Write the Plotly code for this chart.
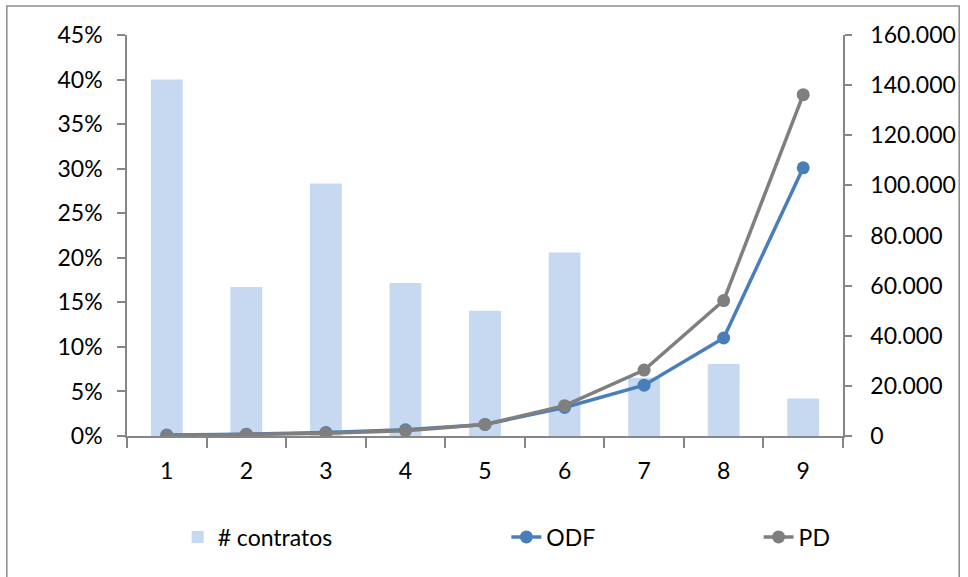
import plotly.graph_objects as go

categories = ["1", "2", "3", "4", "5", "6", "7", "8", "9"]
contratos = [142200, 59500, 100700, 61000, 50000, 73200, 23200, 28700, 15000]
odf = [0.001, 0.002, 0.004, 0.007, 0.013, 0.032, 0.057, 0.110, 0.301]
pd_vals = [0.0005, 0.0015, 0.003, 0.006, 0.013, 0.034, 0.074, 0.152, 0.383]
right_ticks = [0, 20000, 40000, 60000, 80000, 100000, 120000, 140000, 160000]
right_labels = ["0", "20.000", "40.000", "60.000", "80.000", "100.000", "120.000", "140.000", "160.000"]

FONT = "Lato"
FS = 23
AXC = "#868686"

# plot area in pixels
L, R, T, B = 127, 848, 35, 436
W, H = R - L, B - T
def px(x):
    return (x - L) / W
def py(y):
    return (B - y) / H

fig = go.Figure()
fig.add_trace(go.Bar(x=categories, y=contratos, name="# contratos",
                     marker=dict(color="#C6D9F1", line=dict(width=0)),
                     yaxis="y", legend="legend", showlegend=True, width=0.4))
fig.add_trace(go.Scatter(x=categories, y=odf, name="ODF", mode="lines+markers",
                         line=dict(color="#4A7EBB", width=3.5),
                         marker=dict(size=13, color="#4A7EBB"),
                         yaxis="y2", legend="legend2", showlegend=True))
fig.add_trace(go.Scatter(x=categories, y=pd_vals, name="PD", mode="lines+markers",
                         line=dict(color="#7F7F7F", width=3.5),
                         marker=dict(size=13, color="#7F7F7F"),
                         yaxis="y2", legend="legend3", showlegend=True))

legend_common = dict(orientation="h", yanchor="middle", xanchor="left",
                     font=dict(family=FONT, size=FS, color="black"),
                     bgcolor="rgba(0,0,0,0)", y=py(537), visible=True)
fig.update_layout(
    width=968, height=577,
    margin=dict(l=L, r=968 - R, t=T, b=577 - B),
    paper_bgcolor="white", plot_bgcolor="white",
    font=dict(family=FONT, size=FS, color="black"),
    showlegend=True,
    xaxis=dict(type="category", range=[-0.5, 8.5], showline=True, linecolor=AXC,
               linewidth=1.5, ticks="outside", tickson="boundaries", ticklen=10,
               tickcolor=AXC, tickwidth=1.5, showgrid=False, zeroline=False,
               ticklabelstandoff=14,
               tickfont=dict(family=FONT, size=FS, color="black")),
    yaxis=dict(side="right", range=[0, 160000], tickvals=right_ticks, ticktext=right_labels,
               showline=True, linecolor=AXC, linewidth=1.5, ticks="outside", ticklen=7,
               tickcolor=AXC, tickwidth=1.5, showgrid=False, zeroline=False,
               ticklabelstandoff=14,
               tickfont=dict(family=FONT, size=FS, color="black")),
    yaxis2=dict(overlaying="y", side="left", range=[0, 0.45], dtick=0.05, tickformat=".0%",
                showline=True, linecolor=AXC, linewidth=1.5, ticks="outside", ticklen=8,
                tickcolor=AXC, tickwidth=1.5, showgrid=False, zeroline=False,
                ticklabelstandoff=10,
                tickfont=dict(family=FONT, size=FS, color="black")),
    legend=dict(x=px(178), **legend_common),
    legend2=dict(x=px(509), **legend_common),
    legend3=dict(x=px(763), **legend_common),
    shapes=[dict(type="rect", xref="paper", yref="paper",
                 x0=px(6), x1=px(965), y0=py(590), y1=py(6),
                 line=dict(color="#8C8C8C", width=1.5), layer="below")],
)

fig.write_html("out.html", config={"displayModeBar": False},
               post_script="document.body.style.margin='0';")
